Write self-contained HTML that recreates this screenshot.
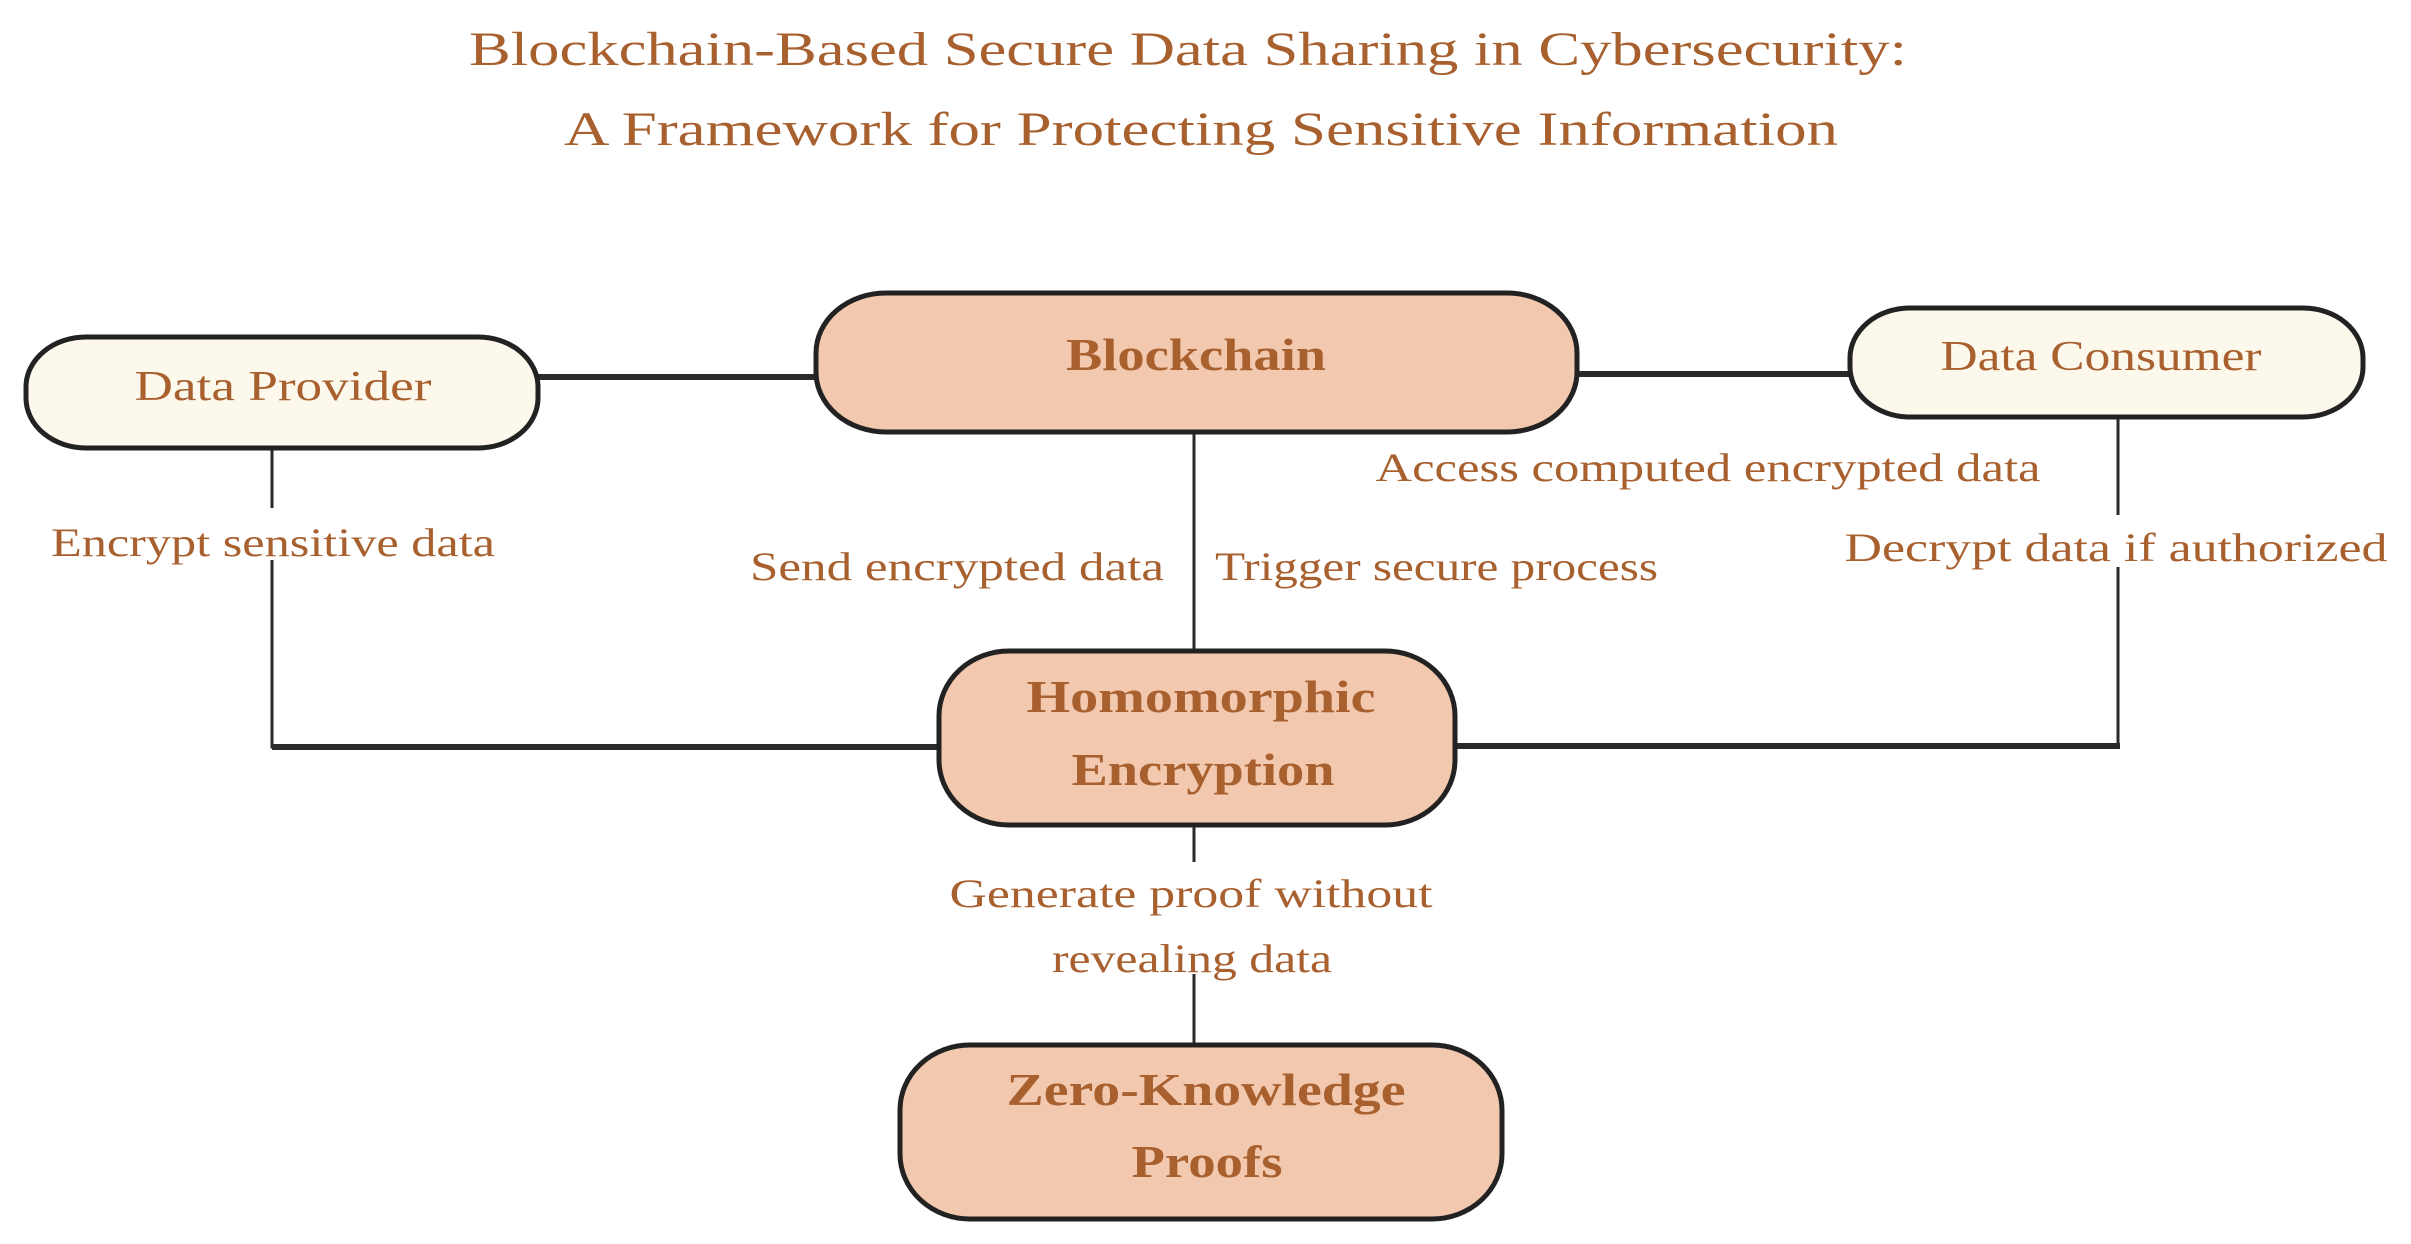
<!DOCTYPE html>
<html><head><meta charset="utf-8"><style>
html,body{margin:0;padding:0;background:#fff;}
svg{display:block;}
text{font-family:"Liberation Serif",serif;fill:#a8602f;}
</style></head><body>
<svg width="2411" height="1244" viewBox="0 0 2411 1244" xmlns="http://www.w3.org/2000/svg">
<rect width="2411" height="1244" fill="#fff"/>
<!-- title -->
<text x="1188" y="65" font-size="48" text-anchor="middle" textLength="1438" lengthAdjust="spacingAndGlyphs">Blockchain-Based Secure Data Sharing in Cybersecurity:</text>
<text x="1201" y="145" font-size="48" text-anchor="middle" textLength="1274" lengthAdjust="spacingAndGlyphs">A Framework for Protecting Sensitive Information</text>

<!-- connectors -->
<g stroke="#2a2a2a" fill="none">
<line x1="538" y1="377" x2="816" y2="377" stroke-width="6"/>
<line x1="1577" y1="374" x2="1850" y2="374" stroke-width="6"/>
<line x1="1194" y1="433" x2="1194" y2="650" stroke-width="3"/>
<polyline points="272,450 272,747 939,747" stroke-width="3"/>
<line x1="272" y1="747" x2="939" y2="747" stroke-width="6"/>
<polyline points="2118,417 2118,746" stroke-width="3"/>
<line x1="1455" y1="746" x2="2120" y2="746" stroke-width="6"/>
<line x1="1194" y1="826" x2="1194" y2="1044" stroke-width="3"/>
</g>

<!-- label backgrounds -->
<g fill="#fff">
<rect x="45" y="508" width="456" height="52"/>
<rect x="1840" y="515" width="555" height="52"/>
<rect x="940" y="862" width="500" height="112"/>
</g>

<!-- nodes -->
<g stroke="#222" stroke-width="5">
<rect x="26" y="337" width="512" height="111" rx="60" ry="50" fill="#fdf8ec"/>
<rect x="816" y="293" width="761" height="139" rx="70" ry="60" fill="#f2c8ae"/>
<rect x="1850" y="308" width="513" height="109" rx="60" ry="50" fill="#fdf8ec"/>
<rect x="939" y="651" width="516" height="174" rx="70" ry="65" fill="#f2c8ae"/>
<rect x="900" y="1045" width="602" height="174" rx="70" ry="65" fill="#f2c8ae"/>
</g>

<!-- node labels -->
<text x="283" y="400" font-size="42" text-anchor="middle" textLength="297" lengthAdjust="spacingAndGlyphs">Data Provider</text>
<text x="1196" y="370" font-size="46" font-weight="bold" text-anchor="middle" textLength="260" lengthAdjust="spacingAndGlyphs">Blockchain</text>
<text x="2101" y="370" font-size="42" text-anchor="middle" textLength="321" lengthAdjust="spacingAndGlyphs">Data Consumer</text>
<text x="1201" y="712" font-size="46" font-weight="bold" text-anchor="middle" textLength="349" lengthAdjust="spacingAndGlyphs">Homomorphic</text>
<text x="1203" y="785" font-size="46" font-weight="bold" text-anchor="middle" textLength="263" lengthAdjust="spacingAndGlyphs">Encryption</text>
<text x="1206" y="1105" font-size="46" font-weight="bold" text-anchor="middle" textLength="399" lengthAdjust="spacingAndGlyphs">Zero-Knowledge</text>
<text x="1207" y="1177" font-size="46" font-weight="bold" text-anchor="middle" textLength="151" lengthAdjust="spacingAndGlyphs">Proofs</text>

<!-- connector labels -->
<text x="273" y="556" font-size="40" text-anchor="middle" textLength="444" lengthAdjust="spacingAndGlyphs">Encrypt sensitive data</text>
<text x="1164" y="580" font-size="40" text-anchor="end" textLength="414" lengthAdjust="spacingAndGlyphs">Send encrypted data</text>
<text x="1215" y="580" font-size="40" textLength="443" lengthAdjust="spacingAndGlyphs">Trigger secure process</text>
<text x="1708" y="481" font-size="40" text-anchor="middle" textLength="665" lengthAdjust="spacingAndGlyphs">Access computed encrypted data</text>
<text x="2116" y="561" font-size="40" text-anchor="middle" textLength="543" lengthAdjust="spacingAndGlyphs">Decrypt data if authorized</text>
<text x="1191" y="907" font-size="40" text-anchor="middle" textLength="483" lengthAdjust="spacingAndGlyphs">Generate proof without</text>
<text x="1192" y="972" font-size="40" text-anchor="middle" textLength="280" lengthAdjust="spacingAndGlyphs">revealing data</text>
</svg>
</body></html>
